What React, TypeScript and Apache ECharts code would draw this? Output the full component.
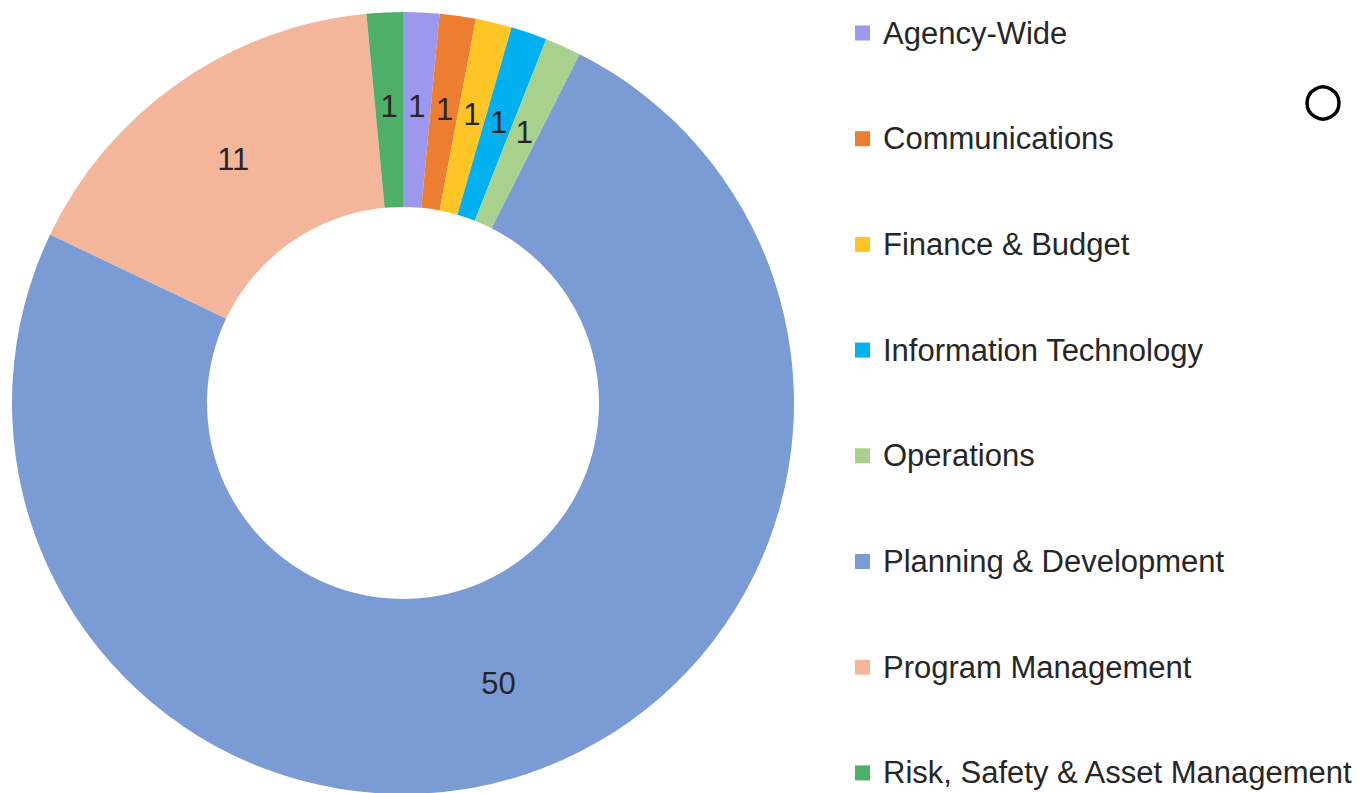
import React, { useEffect, useRef } from "react";
import * as echarts from "echarts";

const categories = [
  "Agency-Wide",
  "Communications",
  "Finance & Budget",
  "Information Technology",
  "Operations",
  "Planning & Development",
  "Program Management",
  "Risk, Safety & Asset Management",
];
const values = [1, 1, 1, 1, 1, 50, 11, 1];
const colors = ["#9B98EE", "#ED7D31", "#FFC526", "#00B0F0", "#A9D18E", "#7B9BD5", "#F4B69B", "#4DAF68"];

const FONT = "'Liberation Sans', Arial, sans-serif";

export default function App() {
  const ref = useRef<HTMLDivElement>(null);
  useEffect(() => {
    if (!ref.current) return;
    const chart = echarts.init(ref.current, null, { renderer: "svg" });
    chart.setOption({
      animation: false,
      backgroundColor: "#ffffff",
      color: colors,
      legend: {
        orient: "vertical",
        left: 855,
        top: 16,
        height: 790,
        padding: 0,
        itemWidth: 15,
        itemHeight: 15,
        itemGap: 71.7,
        icon: "rect",
        textStyle: { fontFamily: FONT, fontSize: 31, color: "#262626", lineHeight: 34, padding: [0, 0, 0, 8] },
        data: categories,
      },
      series: [
        {
          type: "pie",
          center: [403, 403],
          radius: [196, 391],
          startAngle: 90,
          clockwise: true,
          avoidLabelOverlap: false,
          label: {
            show: true,
            position: "inside",
            formatter: "{c}",
            fontFamily: FONT,
            fontSize: 31,
            color: "#262626",
          },
          labelLine: { show: false },
          emphasis: { disabled: true },
          data: categories.map((name, i) => ({ name, value: values[i] })),
        },
      ],
      graphic: [
        {
          type: "circle",
          shape: { cx: 1323, cy: 103, r: 16 },
          style: { fill: "none", stroke: "#000", lineWidth: 3.5 },
        },
      ],
    });
    return () => chart.dispose();
  }, []);
  return <div ref={ref} style={{ position: "fixed", left: 0, top: 0, width: 1363, height: 793 }} />;
}
